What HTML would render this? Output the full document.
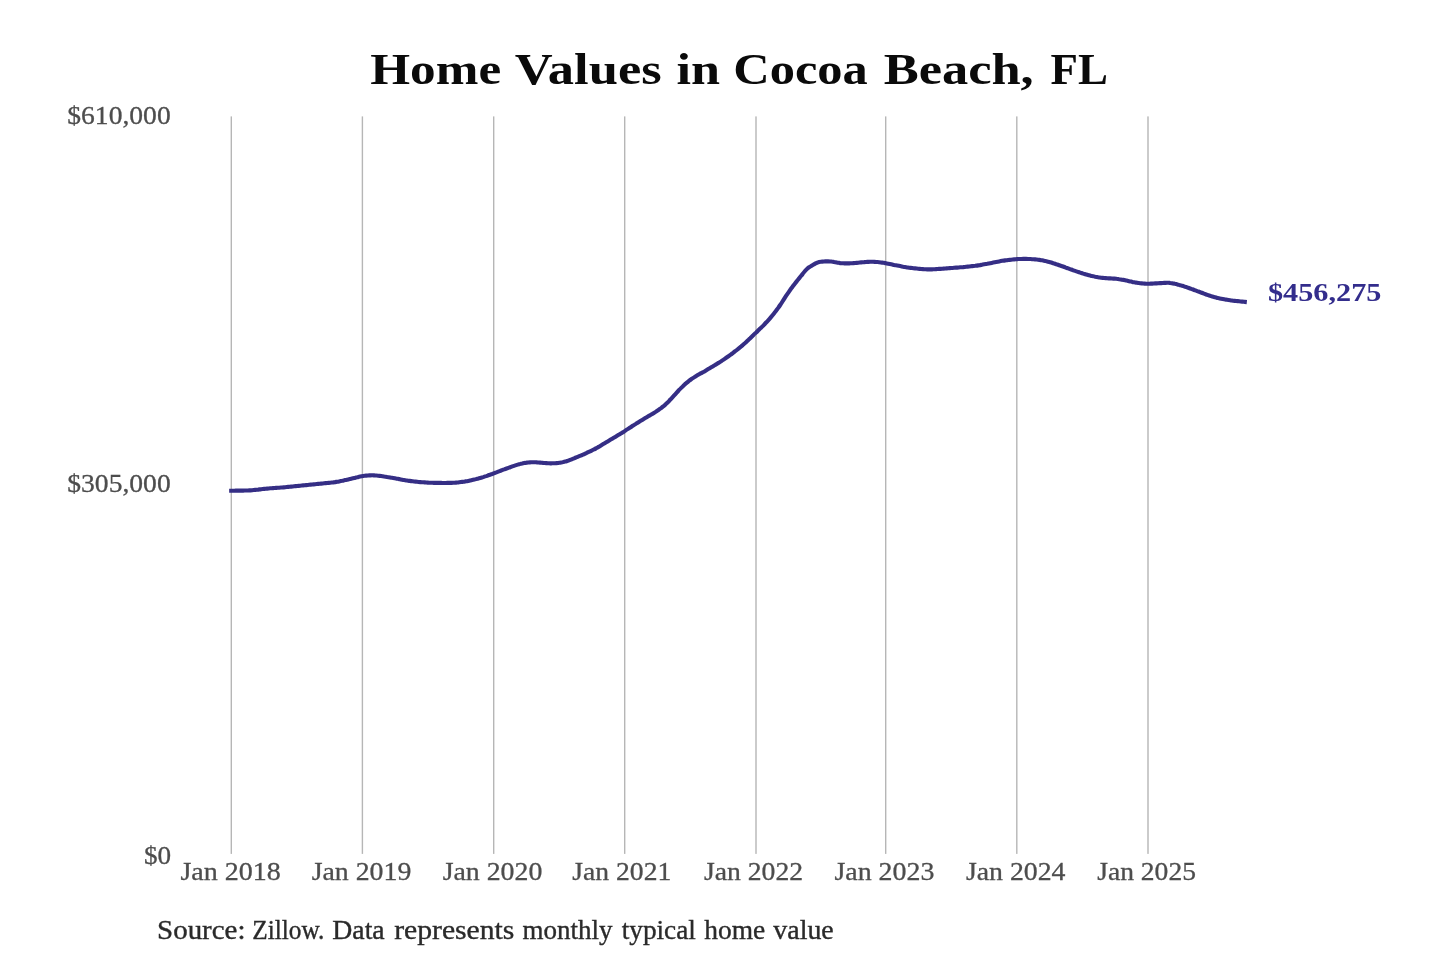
<!DOCTYPE html>
<html><head><meta charset="utf-8"><title>Home Values in Cocoa Beach, FL</title>
<style>
html,body{margin:0;padding:0;background:#fff;}
body{width:1440px;height:960px;overflow:hidden;}
svg{display:block;will-change:transform;}

text{font-family:"Liberation Serif",serif;}
.title{font-weight:bold;font-size:44px;fill:#0a0a0a;}
.ax{font-size:26px;fill:#4d4d4d;stroke:#4d4d4d;stroke-width:0.3px;}
.src{font-size:26.3px;fill:#2a2a2a;stroke:#2a2a2a;stroke-width:0.35px;}
.end{font-size:25px;font-weight:bold;fill:#332d8c;}
</style></head><body>
<svg width="1440" height="960" viewBox="0 0 1440 960">
<rect width="1440" height="960" fill="#ffffff"/>
<rect x="230.60" y="116.4" width="1.4" height="737.5" fill="#b6b6b6"/><rect x="361.70" y="116.4" width="1.4" height="737.5" fill="#b6b6b6"/><rect x="493.00" y="116.4" width="1.4" height="737.5" fill="#b6b6b6"/><rect x="624.00" y="116.4" width="1.4" height="737.5" fill="#b6b6b6"/><rect x="755.30" y="116.4" width="1.4" height="737.5" fill="#b6b6b6"/><rect x="885.00" y="116.4" width="1.4" height="737.5" fill="#b6b6b6"/><rect x="1016.10" y="116.4" width="1.4" height="737.5" fill="#b6b6b6"/><rect x="1147.30" y="116.4" width="1.4" height="737.5" fill="#b6b6b6"/>
<path d="M231.2 490.7C232.2 490.7 232.2 490.7 234.2 490.7C236.2 490.6 235.2 490.7 237.2 490.6C239.2 490.6 238.2 490.6 240.2 490.6C242.2 490.6 241.2 490.6 243.2 490.6C245.2 490.5 244.2 490.6 246.2 490.5C248.2 490.5 247.2 490.5 249.2 490.4C251.2 490.3 250.2 490.4 252.2 490.2C254.2 490.0 253.2 490.1 255.2 489.9C257.2 489.7 256.2 489.8 258.2 489.6C260.2 489.3 259.2 489.5 261.2 489.2C263.2 489.0 262.2 489.1 264.2 488.9C266.2 488.7 265.2 488.8 267.2 488.6C269.2 488.4 268.2 488.5 270.2 488.3C272.2 488.2 271.2 488.3 273.2 488.1C275.2 488.0 274.2 488.1 276.2 487.9C278.2 487.8 277.2 487.8 279.2 487.7C281.2 487.5 280.2 487.6 282.2 487.5C284.2 487.3 283.2 487.4 285.2 487.2C287.2 487.0 286.2 487.1 288.2 486.9C290.2 486.7 289.2 486.8 291.2 486.6C293.2 486.4 292.2 486.5 294.2 486.3C296.2 486.1 295.2 486.2 297.2 486.0C299.2 485.8 298.2 485.9 300.2 485.7C302.2 485.5 301.2 485.6 303.2 485.4C305.2 485.2 304.2 485.3 306.2 485.1C308.2 484.9 307.2 485.0 309.2 484.8C311.2 484.6 310.2 484.7 312.2 484.5C314.2 484.3 313.2 484.4 315.2 484.2C317.2 484.0 316.2 484.1 318.2 483.9C320.2 483.7 319.2 483.8 321.2 483.6C323.2 483.4 322.2 483.5 324.2 483.3C326.2 483.1 325.2 483.2 327.2 483.0C329.2 482.8 328.2 482.9 330.2 482.7C332.2 482.5 331.2 482.6 333.2 482.4C335.2 482.1 334.2 482.2 336.2 481.9C338.2 481.6 337.2 481.8 339.2 481.4C341.2 481.0 340.2 481.2 342.2 480.8C344.2 480.3 343.2 480.6 345.2 480.1C347.2 479.6 346.2 479.9 348.2 479.4C350.2 478.9 349.2 479.2 351.2 478.7C353.2 478.2 352.2 478.5 354.2 478.0C356.2 477.5 355.2 477.7 357.2 477.3C359.2 476.8 358.2 477.0 360.2 476.6C362.2 476.2 361.2 476.4 363.2 476.0C365.2 475.7 364.2 475.9 366.2 475.6C368.2 475.4 367.2 475.5 369.2 475.4C371.2 475.3 370.2 475.3 372.2 475.3C374.2 475.3 373.2 475.3 375.2 475.5C377.2 475.6 376.2 475.5 378.2 475.7C380.2 475.9 379.2 475.8 381.2 476.0C383.2 476.3 382.2 476.1 384.2 476.5C386.2 476.8 385.2 476.6 387.2 477.0C389.2 477.3 388.2 477.1 390.2 477.5C392.2 477.9 391.2 477.7 393.2 478.0C395.2 478.4 394.2 478.2 396.2 478.6C398.2 478.9 397.2 478.8 399.2 479.1C401.2 479.5 400.2 479.3 402.2 479.7C404.2 480.1 403.2 479.9 405.2 480.2C407.2 480.6 406.2 480.4 408.2 480.7C410.2 481.0 409.2 480.8 411.2 481.1C413.2 481.4 412.2 481.2 414.2 481.5C416.2 481.7 415.2 481.6 417.2 481.8C419.2 482.0 418.2 482.0 420.2 482.1C422.2 482.3 421.2 482.2 423.2 482.3C425.2 482.4 424.2 482.4 426.2 482.5C428.2 482.6 427.2 482.6 429.2 482.7C431.2 482.7 430.2 482.7 432.2 482.8C434.2 482.8 433.2 482.8 435.2 482.9C437.2 482.9 436.2 482.9 438.2 482.9C440.2 482.9 439.2 482.9 441.2 482.9C443.2 483.0 442.2 483.0 444.2 483.0C446.2 483.0 445.2 483.0 447.2 482.9C449.2 482.9 448.2 482.9 450.2 482.9C452.2 482.8 451.2 482.9 453.2 482.8C455.2 482.7 454.2 482.8 456.2 482.6C458.2 482.5 457.2 482.6 459.2 482.3C461.2 482.1 460.2 482.2 462.2 481.9C464.2 481.6 463.2 481.8 465.2 481.4C467.2 481.1 466.2 481.3 468.2 480.9C470.2 480.5 469.2 480.7 471.2 480.2C473.2 479.8 472.2 480.0 474.2 479.5C476.2 479.1 475.2 479.3 477.2 478.8C479.2 478.3 478.2 478.6 480.2 478.0C482.2 477.5 481.2 477.7 483.2 477.1C485.2 476.4 484.2 476.7 486.2 476.1C488.2 475.4 487.2 475.7 489.2 475.0C491.2 474.3 490.2 474.7 492.2 474.0C494.2 473.2 493.2 473.6 495.2 472.8C497.2 472.1 496.2 472.5 498.2 471.7C500.2 470.9 499.2 471.3 501.2 470.5C503.2 469.8 502.2 470.1 504.2 469.4C506.2 468.6 505.2 469.0 507.2 468.3C509.2 467.5 508.2 467.9 510.2 467.2C512.2 466.5 511.2 466.8 513.2 466.1C515.2 465.4 514.2 465.8 516.2 465.1C518.2 464.5 517.2 464.8 519.2 464.2C521.2 463.7 520.2 463.9 522.2 463.5C524.2 463.0 523.2 463.2 525.2 462.9C527.2 462.5 526.2 462.7 528.2 462.5C530.2 462.3 529.2 462.4 531.2 462.3C533.2 462.2 532.2 462.2 534.2 462.2C536.2 462.2 535.2 462.2 537.2 462.4C539.2 462.5 538.2 462.4 540.2 462.6C542.2 462.8 541.2 462.7 543.2 462.9C545.2 463.0 544.2 463.0 546.2 463.1C548.2 463.3 547.2 463.2 549.2 463.3C551.2 463.4 550.2 463.4 552.2 463.3C554.2 463.3 553.2 463.4 555.2 463.2C557.2 463.1 556.2 463.2 558.2 463.0C560.2 462.7 559.2 462.9 561.2 462.5C563.2 462.1 562.2 462.3 564.2 461.8C566.2 461.4 565.2 461.7 567.2 461.0C569.2 460.4 568.2 460.7 570.2 459.9C572.2 459.1 571.2 459.5 573.2 458.7C575.2 457.8 574.2 458.3 576.2 457.4C578.2 456.6 577.2 457.0 579.2 456.2C581.2 455.4 580.2 455.8 582.2 455.0C584.2 454.1 583.2 454.5 585.2 453.6C587.2 452.7 586.2 453.2 588.2 452.2C590.2 451.3 589.2 451.8 591.2 450.8C593.2 449.9 592.2 450.4 594.2 449.3C596.2 448.3 595.2 448.8 597.2 447.7C599.2 446.6 598.2 447.1 600.2 445.9C602.2 444.7 601.2 445.3 603.2 444.1C605.2 442.9 604.2 443.5 606.2 442.3C608.2 441.1 607.2 441.7 609.2 440.5C611.2 439.3 610.2 439.9 612.2 438.7C614.2 437.5 613.2 438.1 615.2 436.9C617.2 435.7 616.2 436.3 618.2 435.1C620.2 433.9 619.2 434.5 621.2 433.3C623.2 432.0 622.2 432.6 624.2 431.4C626.2 430.1 625.2 430.7 627.2 429.4C629.2 428.1 628.2 428.8 630.2 427.5C632.2 426.2 631.2 426.8 633.2 425.5C635.2 424.3 634.2 424.9 636.2 423.6C638.2 422.4 637.2 423.0 639.2 421.7C641.2 420.5 640.2 421.1 642.2 419.9C644.2 418.7 643.2 419.3 645.2 418.1C647.2 416.9 646.2 417.5 648.2 416.3C650.2 415.2 649.2 415.8 651.2 414.6C653.2 413.4 652.2 414.0 654.2 412.7C656.2 411.5 655.2 412.1 657.2 410.8C659.2 409.5 658.2 410.2 660.2 408.7C662.2 407.2 661.2 408.0 663.2 406.4C665.2 404.8 664.2 405.7 666.2 403.8C668.2 402.0 667.2 402.9 669.2 400.8C671.2 398.7 670.2 399.8 672.2 397.6C674.2 395.4 673.2 396.5 675.2 394.3C677.2 392.1 676.2 393.2 678.2 391.0C680.2 388.9 679.2 389.9 681.2 387.9C683.2 385.9 682.2 386.9 684.2 385.0C686.2 383.2 685.2 384.1 687.2 382.4C689.2 380.7 688.2 381.5 690.2 380.0C692.2 378.5 691.2 379.3 693.2 377.9C695.2 376.6 694.2 377.2 696.2 376.0C698.2 374.8 697.2 375.4 699.2 374.2C701.2 373.1 700.2 373.7 702.2 372.6C704.2 371.5 703.2 372.1 705.2 370.9C707.2 369.7 706.2 370.3 708.2 369.1C710.2 367.9 709.2 368.5 711.2 367.3C713.2 366.1 712.2 366.7 714.2 365.5C716.2 364.4 715.2 365.0 717.2 363.7C719.2 362.5 718.2 363.2 720.2 361.9C722.2 360.6 721.2 361.2 723.2 359.9C725.2 358.5 724.2 359.2 726.2 357.8C728.2 356.4 727.2 357.1 729.2 355.7C731.2 354.2 730.2 355.0 732.2 353.5C734.2 352.0 733.2 352.8 735.2 351.2C737.2 349.7 736.2 350.4 738.2 348.8C740.2 347.2 739.2 348.0 741.2 346.4C743.2 344.7 742.2 345.6 744.2 343.8C746.2 342.1 745.2 343.0 747.2 341.1C749.2 339.2 748.2 340.1 750.2 338.2C752.2 336.2 751.2 337.1 753.2 335.2C755.2 333.2 754.2 334.2 756.2 332.4C758.2 330.5 757.2 331.4 759.2 329.5C761.2 327.6 760.2 328.6 762.2 326.6C764.2 324.6 763.2 325.6 765.2 323.5C767.2 321.4 766.2 322.5 768.2 320.3C770.2 318.1 769.2 319.2 771.2 316.9C773.2 314.5 772.2 315.7 774.2 313.2C776.2 310.7 775.2 312.0 777.2 309.3C779.2 306.5 778.2 308.0 780.2 305.0C782.2 302.1 781.2 303.5 783.2 300.4C785.2 297.3 784.2 298.7 786.2 295.7C788.2 292.7 787.2 294.2 789.2 291.3C791.2 288.5 790.2 289.9 792.2 287.2C794.2 284.5 793.2 285.8 795.2 283.2C797.2 280.7 796.2 282.0 798.2 279.5C800.2 277.0 799.2 278.3 801.2 275.8C803.2 273.3 802.2 274.3 804.2 272.0C806.2 269.7 805.2 270.6 807.2 268.8C809.2 267.0 808.2 267.9 810.2 266.6C812.2 265.3 811.2 266.0 813.2 264.8C815.2 263.7 814.2 264.2 816.2 263.2C818.2 262.3 817.2 262.6 819.2 262.0C821.2 261.5 820.2 261.8 822.2 261.6C824.2 261.4 823.2 261.5 825.2 261.4C827.2 261.4 826.2 261.4 828.2 261.4C830.2 261.4 829.2 261.4 831.2 261.5C833.2 261.7 832.2 261.6 834.2 262.0C836.2 262.3 835.2 262.2 837.2 262.6C839.2 262.9 838.2 262.8 840.2 263.1C842.2 263.3 841.2 263.2 843.2 263.3C845.2 263.4 844.2 263.4 846.2 263.4C848.2 263.4 847.2 263.4 849.2 263.4C851.2 263.3 850.2 263.3 852.2 263.2C854.2 263.1 853.2 263.2 855.2 263.0C857.2 262.8 856.2 262.9 858.2 262.7C860.2 262.5 859.2 262.6 861.2 262.4C863.2 262.2 862.2 262.2 864.2 262.1C866.2 261.9 865.2 262.0 867.2 261.9C869.2 261.8 868.2 261.8 870.2 261.8C872.2 261.8 871.2 261.8 873.2 261.8C875.2 261.9 874.2 261.8 876.2 262.0C878.2 262.1 877.2 262.0 879.2 262.2C881.2 262.4 880.2 262.3 882.2 262.6C884.2 262.9 883.2 262.8 885.2 263.1C887.2 263.5 886.2 263.3 888.2 263.7C890.2 264.1 889.2 263.9 891.2 264.3C893.2 264.7 892.2 264.5 894.2 265.0C896.2 265.4 895.2 265.2 897.2 265.5C899.2 265.9 898.2 265.7 900.2 266.1C902.2 266.5 901.2 266.3 903.2 266.7C905.2 267.0 904.2 266.9 906.2 267.2C908.2 267.5 907.2 267.4 909.2 267.7C911.2 267.9 910.2 267.8 912.2 268.0C914.2 268.3 913.2 268.2 915.2 268.4C917.2 268.6 916.2 268.5 918.2 268.7C920.2 268.9 919.2 268.9 921.2 269.0C923.2 269.2 922.2 269.1 924.2 269.2C926.2 269.3 925.2 269.3 927.2 269.4C929.2 269.4 928.2 269.4 930.2 269.4C932.2 269.4 931.2 269.4 933.2 269.3C935.2 269.2 934.2 269.2 936.2 269.1C938.2 269.0 937.2 269.1 939.2 268.9C941.2 268.8 940.2 268.9 942.2 268.7C944.2 268.6 943.2 268.7 945.2 268.5C947.2 268.4 946.2 268.4 948.2 268.3C950.2 268.1 949.2 268.2 951.2 268.0C953.2 267.9 952.2 268.0 954.2 267.8C956.2 267.6 955.2 267.7 957.2 267.6C959.2 267.4 958.2 267.5 960.2 267.3C962.2 267.2 961.2 267.2 963.2 267.1C965.2 266.9 964.2 267.0 966.2 266.8C968.2 266.6 967.2 266.7 969.2 266.5C971.2 266.3 970.2 266.4 972.2 266.1C974.2 265.9 973.2 266.0 975.2 265.8C977.2 265.5 976.2 265.7 978.2 265.4C980.2 265.1 979.2 265.2 981.2 264.9C983.2 264.5 982.2 264.7 984.2 264.3C986.2 264.0 985.2 264.1 987.2 263.8C989.2 263.4 988.2 263.6 990.2 263.2C992.2 262.8 991.2 263.0 993.2 262.6C995.2 262.2 994.2 262.4 996.2 262.0C998.2 261.6 997.2 261.8 999.2 261.4C1001.2 261.0 1000.2 261.2 1002.2 260.8C1004.2 260.5 1003.2 260.7 1005.2 260.4C1007.2 260.1 1006.2 260.3 1008.2 260.0C1010.2 259.8 1009.2 259.9 1011.2 259.7C1013.2 259.5 1012.2 259.6 1014.2 259.4C1016.2 259.2 1015.2 259.2 1017.2 259.1C1019.2 259.0 1018.2 259.0 1020.2 259.0C1022.2 258.9 1021.2 258.9 1023.2 258.9C1025.2 258.9 1024.2 258.9 1026.2 258.9C1028.2 258.9 1027.2 258.9 1029.2 259.0C1031.2 259.1 1030.2 259.0 1032.2 259.2C1034.2 259.3 1033.2 259.2 1035.2 259.4C1037.2 259.6 1036.2 259.4 1038.2 259.7C1040.2 260.0 1039.2 259.8 1041.2 260.2C1043.2 260.5 1042.2 260.3 1044.2 260.8C1046.2 261.2 1045.2 260.9 1047.2 261.4C1049.2 261.9 1048.2 261.6 1050.2 262.2C1052.2 262.8 1051.2 262.5 1053.2 263.2C1055.2 263.8 1054.2 263.5 1056.2 264.2C1058.2 264.8 1057.2 264.5 1059.2 265.2C1061.2 265.9 1060.2 265.5 1062.2 266.2C1064.2 266.9 1063.2 266.6 1065.2 267.3C1067.2 268.1 1066.2 267.7 1068.2 268.4C1070.2 269.2 1069.2 268.8 1071.2 269.5C1073.2 270.2 1072.2 269.9 1074.2 270.6C1076.2 271.3 1075.2 270.9 1077.2 271.6C1079.2 272.3 1078.2 272.0 1080.2 272.6C1082.2 273.3 1081.2 273.0 1083.2 273.6C1085.2 274.2 1084.2 274.0 1086.2 274.5C1088.2 275.1 1087.2 274.8 1089.2 275.3C1091.2 275.8 1090.2 275.5 1092.2 276.0C1094.2 276.4 1093.2 276.2 1095.2 276.7C1097.2 277.1 1096.2 276.9 1098.2 277.3C1100.2 277.6 1099.2 277.4 1101.2 277.7C1103.2 277.9 1102.2 277.8 1104.2 278.0C1106.2 278.2 1105.2 278.1 1107.2 278.3C1109.2 278.4 1108.2 278.3 1110.2 278.4C1112.2 278.6 1111.2 278.5 1113.2 278.6C1115.2 278.7 1114.2 278.6 1116.2 278.8C1118.2 279.0 1117.2 278.9 1119.2 279.2C1121.2 279.4 1120.2 279.3 1122.2 279.7C1124.2 280.0 1123.2 279.8 1125.2 280.2C1127.2 280.7 1126.2 280.4 1128.2 280.9C1130.2 281.4 1129.2 281.2 1131.2 281.6C1133.2 282.1 1132.2 281.9 1134.2 282.3C1136.2 282.7 1135.2 282.5 1137.2 282.8C1139.2 283.1 1138.2 282.9 1140.2 283.2C1142.2 283.4 1141.2 283.3 1143.2 283.5C1145.2 283.6 1144.2 283.6 1146.2 283.7C1148.2 283.7 1147.2 283.7 1149.2 283.7C1151.2 283.7 1150.2 283.7 1152.2 283.6C1154.2 283.5 1153.2 283.5 1155.2 283.4C1157.2 283.3 1156.2 283.4 1158.2 283.3C1160.2 283.1 1159.2 283.2 1161.2 283.1C1163.2 283.0 1162.2 283.0 1164.2 282.9C1166.2 282.8 1165.2 282.8 1167.2 282.8C1169.2 282.8 1168.2 282.7 1170.2 283.0C1172.2 283.2 1171.2 283.1 1173.2 283.5C1175.2 283.8 1174.2 283.6 1176.2 284.1C1178.2 284.6 1177.2 284.3 1179.2 284.9C1181.2 285.4 1180.2 285.2 1182.2 285.8C1184.2 286.4 1183.2 286.1 1185.2 286.8C1187.2 287.4 1186.2 287.1 1188.2 287.8C1190.2 288.5 1189.2 288.1 1191.2 288.9C1193.2 289.6 1192.2 289.2 1194.2 290.0C1196.2 290.7 1195.2 290.3 1197.2 291.1C1199.2 291.8 1198.2 291.4 1200.2 292.2C1202.2 292.9 1201.2 292.6 1203.2 293.3C1205.2 294.1 1204.2 293.7 1206.2 294.5C1208.2 295.2 1207.2 294.9 1209.2 295.5C1211.2 296.2 1210.2 295.9 1212.2 296.5C1214.2 297.1 1213.2 296.8 1215.2 297.3C1217.2 297.8 1216.2 297.6 1218.2 298.1C1220.2 298.5 1219.2 298.3 1221.2 298.7C1223.2 299.1 1222.2 298.9 1224.2 299.3C1226.2 299.7 1225.2 299.5 1227.2 299.8C1229.2 300.1 1228.2 300.0 1230.2 300.2C1232.2 300.5 1231.2 300.4 1233.2 300.7C1235.2 300.9 1234.2 300.8 1236.2 301.0C1238.2 301.2 1237.2 301.1 1239.2 301.3C1241.2 301.5 1240.3 301.4 1242.2 301.6C1244.1 301.8 1243.9 301.8 1244.8 301.9" fill="none" stroke="#352e85" stroke-width="4.1" stroke-linecap="square" stroke-linejoin="round"/>
<text class="title" x="370.28" y="83.5" textLength="130.85" lengthAdjust="spacingAndGlyphs">Home</text>
<text class="title" x="514.78" y="83.5" textLength="146.86" lengthAdjust="spacingAndGlyphs">Values</text>
<text class="title" x="676.44" y="83.5" textLength="43.52" lengthAdjust="spacingAndGlyphs">in</text>
<text class="title" x="733.27" y="83.5" textLength="134.44" lengthAdjust="spacingAndGlyphs">Cocoa</text>
<text class="title" x="883.68" y="83.5" textLength="150.06" lengthAdjust="spacingAndGlyphs">Beach,</text>
<text class="title" x="1050.64" y="83.5" textLength="57.39" lengthAdjust="spacingAndGlyphs">FL</text>
<text class="ax" x="67.28" y="123.8" textLength="103.43" lengthAdjust="spacingAndGlyphs">$610,000</text>
<text class="ax" x="67.28" y="492.1" textLength="103.43" lengthAdjust="spacingAndGlyphs">$305,000</text>
<text class="ax" x="143.91" y="863.8" textLength="27.17" lengthAdjust="spacingAndGlyphs">$0</text>
<text class="src" x="157.10" y="939.2" textLength="88.41" lengthAdjust="spacingAndGlyphs">Source:</text>
<text class="src" x="252.27" y="939.2" textLength="72.06" lengthAdjust="spacingAndGlyphs">Zillow.</text>
<text class="src" x="332.29" y="939.2" textLength="52.41" lengthAdjust="spacingAndGlyphs">Data</text>
<text class="src" x="394.20" y="939.2" textLength="120.21" lengthAdjust="spacingAndGlyphs">represents</text>
<text class="src" x="522.50" y="939.2" textLength="90.00" lengthAdjust="spacingAndGlyphs">monthly</text>
<text class="src" x="621.70" y="939.2" textLength="74.20" lengthAdjust="spacingAndGlyphs">typical</text>
<text class="src" x="704.20" y="939.2" textLength="61.00" lengthAdjust="spacingAndGlyphs">home</text>
<text class="src" x="773.30" y="939.2" textLength="60.42" lengthAdjust="spacingAndGlyphs">value</text>
<text class="end" x="1267.98" y="300.7" textLength="113.44" lengthAdjust="spacingAndGlyphs">$456,275</text>
<text class="ax" x="180.40" y="879.7" textLength="100.41" lengthAdjust="spacingAndGlyphs">Jan 2018</text>
<text class="ax" x="311.70" y="879.7" textLength="99.61" lengthAdjust="spacingAndGlyphs">Jan 2019</text>
<text class="ax" x="442.65" y="879.7" textLength="99.70" lengthAdjust="spacingAndGlyphs">Jan 2020</text>
<text class="ax" x="572.30" y="879.7" textLength="99.02" lengthAdjust="spacingAndGlyphs">Jan 2021</text>
<text class="ax" x="703.90" y="879.7" textLength="99.21" lengthAdjust="spacingAndGlyphs">Jan 2022</text>
<text class="ax" x="834.40" y="879.7" textLength="100.01" lengthAdjust="spacingAndGlyphs">Jan 2023</text>
<text class="ax" x="965.90" y="879.7" textLength="99.60" lengthAdjust="spacingAndGlyphs">Jan 2024</text>
<text class="ax" x="1097.20" y="879.7" textLength="98.80" lengthAdjust="spacingAndGlyphs">Jan 2025</text>
</svg>
</body></html>
